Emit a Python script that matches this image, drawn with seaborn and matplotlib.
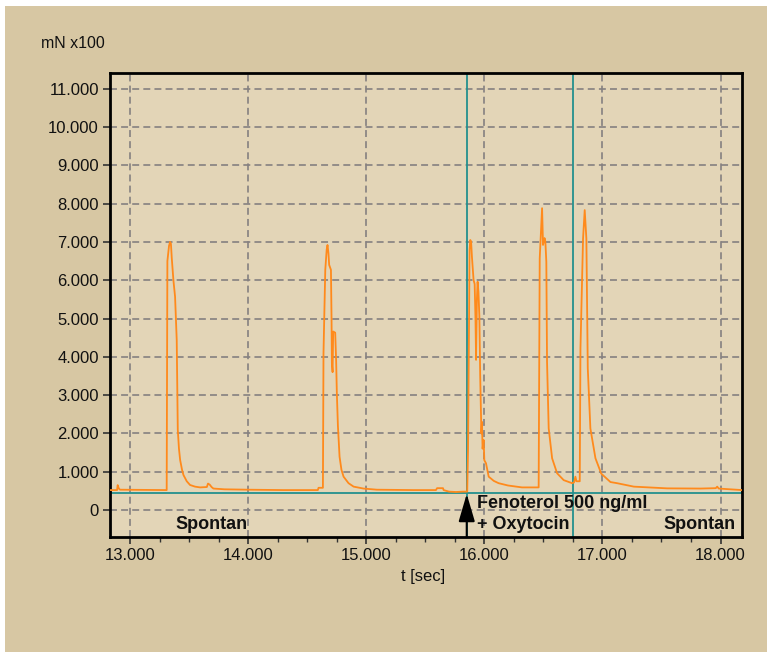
import matplotlib
matplotlib.use("Agg")
import matplotlib.pyplot as plt
from matplotlib.patches import Rectangle
from matplotlib.ticker import FuncFormatter, MultipleLocator
import seaborn as sns
import pandas as pd

# ---- data ----
t_sec = [12830, 12890, 12895, 12905, 12915, 13310,
         13316, 13330, 13339, 13346, 13353, 13367, 13381, 13395, 13404, 13414, 13424,
         13440, 13452, 13480, 13508, 13550, 13593, 13650, 13660, 13675, 13690, 13706,
         13800, 14000, 14300, 14590, 14596, 14633,
         14638, 14653, 14665, 14672, 14680, 14686, 14701, 14706, 14709, 14715, 14720,
         14737, 14745, 14751, 14760, 14774, 14790, 14808, 14850, 14893, 14977, 15090,
         15400, 15590, 15600, 15650, 15655, 15700, 15760, 15820, 15855,
         15862, 15875, 15881, 15888, 15895, 15902, 15909, 15918, 15925, 15930, 15937,
         15943, 15950, 15958, 15965, 15975, 15980, 15985, 15994, 16000, 16014, 16037,
         16080, 16121, 16200, 16319, 16460,
         16469, 16489, 16497, 16510, 16517, 16525, 16531, 16545, 16574, 16616, 16672,
         16743, 16760, 16771, 16780, 16808,
         16814, 16836, 16850, 16864, 16876, 16898, 16941, 16990, 17068, 17124, 17266,
         17548, 17831, 17960, 17972, 17985, 18182]
force = [520, 520, 650, 560, 530, 520,
         6500, 6900, 7000, 6950, 6580, 6000, 5570, 4440, 2090, 1600, 1305,
         1050, 914, 750, 653, 610, 590, 600, 690, 660, 600, 560,
         540, 530, 520, 520, 580, 580,
         4100, 6270, 6800, 6920, 6700, 6400, 6270, 5000, 3830, 3600, 4660,
         4630, 3900, 3050, 2200, 1390, 1050, 870, 700, 610, 560, 530,
         520, 520, 570, 570, 520, 480, 470, 480, 480,
         1570, 6800, 7050, 7000, 6610, 6300, 6000, 5900, 5000, 3920, 5500,
         5960, 5700, 5050, 3500, 2000, 2300, 1600, 1830, 1300, 1220, 870,
         760, 700, 640, 590, 590,
         6570, 7880, 6920, 7100, 7000, 6480, 3870, 2130, 1350, 960, 780,
         700, 720, 870, 750, 750,
         4220, 7090, 7830, 7090, 3700, 2130, 1350, 950, 730, 700, 610,
         565, 560, 570, 610, 560, 520]

baseline_level = 450
marker_times = [15851, 16748]
x_ticks = [13000, 14000, 15000, 16000, 17000, 18000]
y_ticks = [0, 1000, 2000, 3000, 4000, 5000, 6000, 7000, 8000, 9000, 10000, 11000]
y_unit_label = "mN x100"
x_label = "t [sec]"
annotations = ["Spontan", "Fenoterol 500 ng/ml", "+ Oxytocin", "Spontan"]

df = pd.DataFrame({"t": t_sec, "f": force})

# ---- style ----
sns.set_theme(style="ticks")
plt.rcParams["font.family"] = ["Liberation Sans", "DejaVu Sans"]
plt.rcParams["lines.scale_dashes"] = False

W, H = 767, 652
fig = plt.figure(figsize=(W / 100, H / 100), dpi=100)
fig.patch.set_facecolor("#D7C7A3")
# white border strips top/left
fig.patches.append(Rectangle((0, 1 - 6 / H), 1, 6 / H, transform=fig.transFigure,
                             facecolor="white", edgecolor="none", zorder=-1))
fig.patches.append(Rectangle((0, 0), 5 / W, 1, transform=fig.transFigure,
                             facecolor="white", edgecolor="none", zorder=-1))

ax_l, ax_r, ax_t, ax_b = 110, 742, 73, 537
ax = fig.add_axes([ax_l / W, 1 - ax_b / H, (ax_r - ax_l) / W, (ax_b - ax_t) / H])
ax.set_facecolor("#E3D5B7")

sns.lineplot(data=df, x="t", y="f", ax=ax, color="#FF8A1C", linewidth=1.3,
             estimator=None, sort=False, zorder=3)

ax.axhline(baseline_level, color="#23908E", lw=1.3, zorder=2)
for mt in marker_times:
    ax.axvline(mt, color="#23908E", lw=1.3, zorder=2)

ax.set_xlim(12830, 18182)
ax.set_ylim(-705, 11410)
ax.set_xticks(x_ticks)
ax.set_yticks(y_ticks)
ax.xaxis.set_minor_locator(MultipleLocator(250))
fmt = FuncFormatter(lambda v, p: f"{v:,.0f}".replace(",", "."))
ax.xaxis.set_major_formatter(fmt)
ax.yaxis.set_major_formatter(fmt)

ax.grid(True, which="major", color="#858080", linestyle=(0, (5, 3)), lw=1.2)
ax.set_axisbelow(True)

for s in ax.spines.values():
    s.set_color("black")
    s.set_linewidth(2.0)
    s.set_visible(True)

ax.tick_params(axis="both", which="major", direction="out", length=5, width=1.2,
               color="#333333", labelsize=12, labelcolor="#111111", pad=3)
ax.tick_params(axis="x", which="minor", direction="out", length=3.5, width=1.0,
               color="#333333")
ax.tick_params(axis="y", which="minor", length=0)

ax.set_ylabel("")
ax.set_xlabel(x_label, fontsize=12, color="#111111")
ax.xaxis.set_label_coords((423 - ax_l) / (ax_r - ax_l), -(577 - ax_b) / (ax_b - ax_t))
ax.xaxis.label.set_va("center")

fig.text(41 / W, 1 - 44 / H, y_unit_label, fontsize=11.5, color="#111111",
         ha="left", va="center")

# annotations
ax.text(13381, -390, annotations[0], fontsize=13, fontweight="bold", ha="left",
        va="center", color="#111111", zorder=5)
ax.text(15936, 175, annotations[1], fontsize=13, fontweight="bold", ha="left",
        va="center", color="#111111", zorder=5)
ax.text(15940, -390, annotations[2], fontsize=13, fontweight="bold", ha="left",
        va="center", color="#111111", zorder=5)
ax.text(18129, -390, annotations[3], fontsize=13, fontweight="bold", ha="right",
        va="center", color="#111111", zorder=5)

ax.annotate("", xy=(marker_times[0], 420), xytext=(marker_times[0], -705),
            arrowprops=dict(arrowstyle="-|>,head_length=0.85,head_width=0.25",
                            color="black", lw=1.5, mutation_scale=20,
                            shrinkA=0, shrinkB=0), zorder=6)

fig.savefig("out.png", dpi=100, facecolor=fig.get_facecolor())
